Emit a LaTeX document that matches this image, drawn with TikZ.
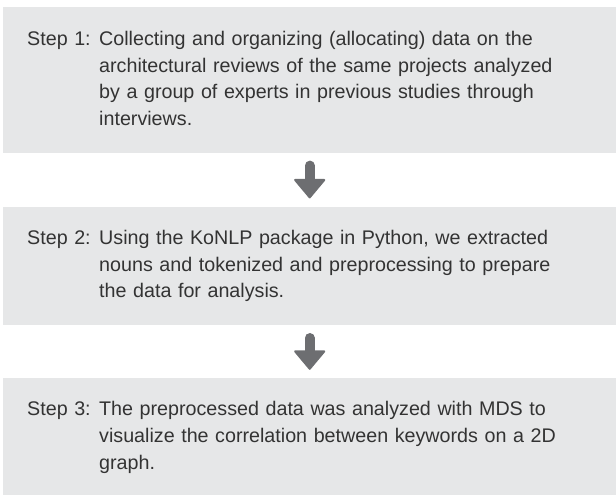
\documentclass[tikz,border=0pt]{standalone}
\usepackage{fontspec}
\setmainfont{Liberation Sans}
\usetikzlibrary{positioning,arrows.meta}
\definecolor{boxgray}{HTML}{E6E7E8}
\definecolor{arrowgray}{HTML}{6D6E71}
\definecolor{textgray}{HTML}{333333}
\tikzset{
  stepbox/.style={fill=boxgray, minimum width=613pt, inner xsep=24pt, inner ysep=0pt,
    text width=565pt, align=left, text=textgray, font=\fontsize{19.7}{26.7}\selectfont},
  flowarrow/.style={arrowgray, line width=10pt, line cap=round, shorten <=12.5pt, shorten >=8pt,
    -{Triangle[width=33pt,length=20pt,line width=2pt,round]}}
}
\begin{document}
\begin{tikzpicture}
    \useasboundingbox (0,0) rectangle (616pt,-495pt);

    \node[stepbox, minimum height=145.7pt, anchor=north west] (step1) at (3pt,-7pt) {%
      \begin{tabular}{@{}p{72pt}@{}l@{}}
        Step 1: & Collecting and organizing (allocating) data on the\\
                & architectural reviews of the same projects analyzed\\
                & by a group of experts in previous studies through\\
                & interviews.
      \end{tabular}};
    \node[stepbox, minimum height=118.7pt, below=53.3pt of step1] (step2) {%
      \begin{tabular}{@{}p{72pt}@{}l@{}}
        Step 2: & Using the KoNLP package in Python, we extracted\\
                & nouns and tokenized and preprocessing to prepare\\
                & the data for analysis.
      \end{tabular}};
    \node[stepbox, minimum height=118pt, below=52.3pt of step2] (step3) {%
      \begin{tabular}{@{}p{72pt}@{}l@{}}
        Step 3: & The preprocessed data was analyzed with MDS to\\
                & visualize the correlation between keywords on a 2D\\
                & graph.
      \end{tabular}};

    \draw[flowarrow] (step1) -- (step2);
    \draw[flowarrow] (step2) -- (step3);
\end{tikzpicture}
\end{document}
